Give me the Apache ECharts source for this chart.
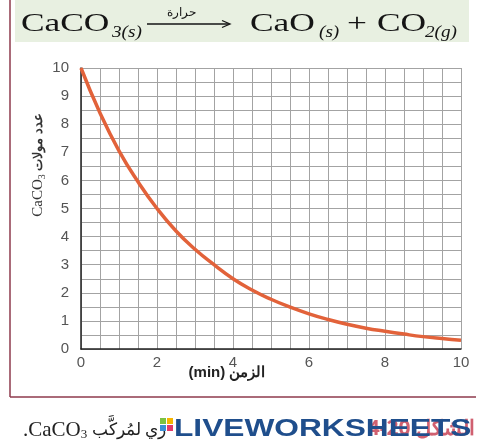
<!DOCTYPE html>
<html><head><meta charset="utf-8">
<script src="https://cdn.jsdelivr.net/npm/echarts@6/dist/echarts.min.js"></script>
<style>html,body{margin:0;padding:0;background:#fff}#c{width:480px;height:448px}</style>
</head><body><div id="c"></div>
<script>
const times = [0,0.5,1,1.5,2,2.5,3,3.5,4,4.5,5,5.5,6,6.5,7,7.5,8,8.5,9,9.5,10];
const moles = [10,8.4,7.05,5.95,5.0,4.2,3.55,3.0,2.5,2.1,1.77,1.49,1.25,1.05,0.88,0.74,0.63,0.53,0.44,0.37,0.31];
const xTicks = [0,2,4,6,8,10];
const yTicks = [0,1,2,3,4,5,6,7,8,9,10];
const xTitle = '(min) الزمن';
const yTitleArabic = 'عدد مولات';

const chart = echarts.init(document.getElementById('c'), null, {renderer:'canvas'});
const gridStyle = {color:'#a3a3a3', width:1};
const serif = 'Liberation Serif';
function big(txt, x){ return {type:'text', x:x, y:24, scaleX:1.36, style:{text:txt, fontFamily:serif, fontSize:26, fill:'#151515', verticalAlign:'middle'}}; }
function sub(txt, x){ return {type:'text', x:x, y:33, scaleX:1.2, style:{text:txt, fontFamily:serif, fontSize:16, fontStyle:'italic', fill:'#151515', verticalAlign:'middle'}}; }
chart.setOption({
  animation:false,
  grid:{left:81, right:19, top:68, bottom:99},
  xAxis:{type:'value', min:0, max:10, interval:2,
    axisLine:{show:true, onZero:false, lineStyle:{color:'#222', width:1.5}},
    axisTick:{show:false},
    axisLabel:{color:'#555', fontSize:15, fontFamily:'Liberation Sans', margin:6},
    splitLine:{show:true, lineStyle:gridStyle},
    minorTick:{show:false, splitNumber:4},
    minorSplitLine:{show:true, lineStyle:gridStyle}},
  yAxis:{type:'value', min:0, max:10, interval:1,
    axisLine:{show:true, onZero:false, lineStyle:{color:'#222', width:1.5}},
    axisTick:{show:false},
    axisLabel:{color:'#555', fontSize:15, fontFamily:'Liberation Sans', margin:12},
    splitLine:{show:true, lineStyle:gridStyle},
    minorTick:{show:false, splitNumber:2},
    minorSplitLine:{show:true, lineStyle:gridStyle}},
  series:[{type:'line', data:times.map((t,i)=>[t,moles[i]]), smooth:true, symbol:'none',
    lineStyle:{color:'#e2623a', width:3.5}}],
  graphic:[
    {type:'rect', shape:{x:15,y:0,width:454,height:42}, style:{fill:'#e8f0e1'}},
    {type:'line', shape:{x1:10,y1:0,x2:10,y2:397}, style:{stroke:'#8e3a4c', lineWidth:1.5}},
    {type:'line', shape:{x1:10,y1:397,x2:476,y2:397}, style:{stroke:'#8e3a4c', lineWidth:1.5}},
    big('CaCO', 21), sub('3(s)', 112),
    {type:'line', shape:{x1:147,y1:24,x2:229,y2:24}, style:{stroke:'#151515', lineWidth:1.3}},
    {type:'polyline', shape:{points:[[222,20.5],[230,24],[222,27.5]]}, style:{stroke:'#151515', lineWidth:1.3, fill:null}},
    {type:'text', x:181, y:13, style:{text:'حرارة', fontFamily:'Noto Sans', fontSize:12, fill:'#151515', align:'center', verticalAlign:'middle'}},
    big('CaO', 250), sub('(s)', 319), big('+', 347), big('CO', 377), sub('2(g)', 425),
    {type:'text', x:38, y:165, rotation:Math.PI/2, style:{
      text:'{n|CaCO}{s|3}{a| '+yTitleArabic+'}', align:'center', verticalAlign:'middle',
      rich:{n:{fontFamily:'Liberation Sans Narrow', fontSize:15, fill:'#333'},
            s:{fontFamily:'Liberation Sans Narrow', fontSize:10, fill:'#333', padding:[8,0,0,0]},
            a:{fontFamily:'Noto Sans', fontSize:13, fontWeight:'bold', fill:'#333'}}}},
    {type:'text', x:227, y:373, style:{text:xTitle, fontFamily:'Liberation Sans', fontWeight:'bold', fontSize:15, fill:'#222', align:'center', verticalAlign:'middle'}},
    {type:'text', x:475, y:429, style:{text:'الشكل 20-4', fontFamily:'Noto Sans', fontWeight:'bold', fontSize:21, fill:'#d06070', align:'right', verticalAlign:'middle'}},
    {type:'text', x:23, y:430, style:{
      text:'{n|.CaCO}{s|3}{a| ري لمُركَّب}', verticalAlign:'middle',
      rich:{n:{fontFamily:serif, fontSize:21, fill:'#222'},
            s:{fontFamily:serif, fontSize:13, fill:'#222', padding:[10,0,0,0]},
            a:{fontFamily:'Noto Sans', fontSize:17, fill:'#222'}}}},
    {type:'rect', shape:{x:160,y:418,width:6,height:6}, style:{fill:'#7cc242'}},
    {type:'rect', shape:{x:167,y:418,width:6,height:6}, style:{fill:'#f7b500'}},
    {type:'rect', shape:{x:160,y:425,width:6,height:6}, style:{fill:'#3a8fd6'}},
    {type:'rect', shape:{x:167,y:425,width:6,height:6}, style:{fill:'#e23a6a'}},
    {type:'text', x:174, y:429, scaleX:1.32, style:{text:'LIVEWORKSHEETS', fontFamily:'Liberation Sans', fontWeight:'bold', fontSize:24, fill:'#1f4e8c', verticalAlign:'middle'}}
  ]
});
</script></body></html>
